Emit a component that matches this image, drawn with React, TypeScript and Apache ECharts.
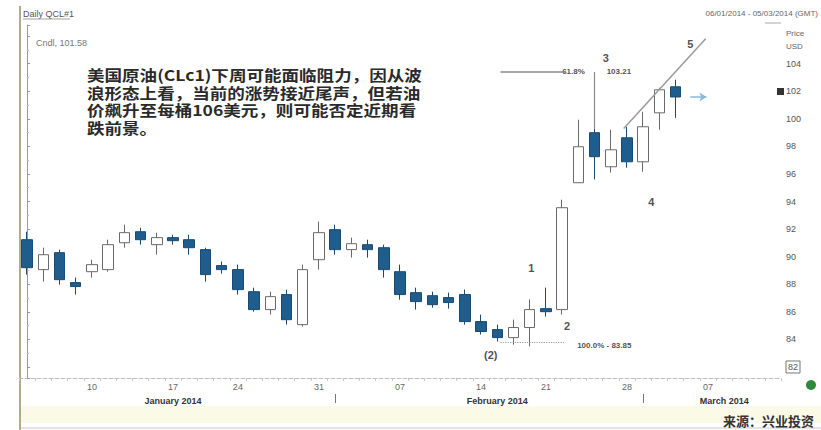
import React, { useEffect, useRef } from 'react';
import * as echarts from 'echarts';

// Trading days (MLK day and Presidents' Day skipped); last 6 are empty slots on the axis
const dates = [
  '2014-01-06', '2014-01-07', '2014-01-08', '2014-01-09', '2014-01-10',
  '2014-01-13', '2014-01-14', '2014-01-15', '2014-01-16', '2014-01-17',
  '2014-01-21', '2014-01-22', '2014-01-23', '2014-01-24',
  '2014-01-27', '2014-01-28', '2014-01-29', '2014-01-30', '2014-01-31',
  '2014-02-03', '2014-02-04', '2014-02-05', '2014-02-06', '2014-02-07',
  '2014-02-10', '2014-02-11', '2014-02-12', '2014-02-13', '2014-02-14',
  '2014-02-18', '2014-02-19', '2014-02-20', '2014-02-21',
  '2014-02-24', '2014-02-25', '2014-02-26', '2014-02-27', '2014-02-28',
  '2014-03-03', '2014-03-04', '2014-03-05', '2014-03-06', '2014-03-07',
  '2014-03-10', '2014-03-11', '2014-03-12', '2014-03-13',
];

const opens = [
  91.23, 89.06, 90.29, 88.12, 88.91, 89.06, 91.01, 91.81, 90.87, 91.38,
  91.23, 90.51, 89.35, 89.06, 87.46, 86.16, 87.25, 85.07, 89.78, 91.96,
  90.51, 90.87, 90.65, 88.91, 87.39, 87.17, 87.03, 87.25, 85.29, 84.71,
  84.13, 84.86, 86.23, 86.16, 95.36, 98.99, 96.52, 98.62, 96.88, 100.43,
  102.32,
];
const closes = [
  89.2, 90.14, 88.33, 87.83, 89.42, 90.87, 91.74, 91.23, 91.38, 91.16,
  90.65, 88.7, 89.06, 87.61, 86.16, 87.1, 85.43, 89.06, 91.74, 90.51,
  90.94, 90.51, 89.06, 87.25, 86.74, 86.52, 86.67, 85.29, 84.57, 84.13,
  84.86, 86.16, 86.01, 93.55, 97.97, 97.25, 97.75, 96.88, 99.42, 102.1,
  101.58,
];
const lows = [
  88.7, 88.19, 87.97, 87.25, 88.48, 88.91, 90.65, 90.87, 90.14, 90.87,
  90.14, 88.19, 88.77, 87.25, 86.01, 85.8, 85.07, 84.93, 89.06, 90.14,
  89.93, 89.93, 88.48, 86.88, 86.16, 86.3, 86.23, 85.07, 84.35, 83.84,
  83.62, 83.5, 85.65, 85.8, 95.4, 95.6, 96.1, 96.45, 96.16, 99.2,
  100.07,
];
const highs = [
  91.81, 90.65, 90.51, 88.48, 89.78, 91.23, 92.32, 92.1, 91.74, 91.59,
  91.59, 90.65, 89.64, 89.42, 87.75, 87.46, 87.61, 89.42, 92.54, 92.32,
  91.38, 91.23, 90.87, 89.42, 87.75, 87.46, 87.39, 87.61, 85.8, 85.07,
  85.43, 86.9, 87.75, 94.13, 99.93, 99.3, 99.2, 99.42, 100.51, 102.25,
  102.83,
];

const monthLabels = ['January 2014', 'February 2014', 'March 2014'];
const monthLabelIdx = [9, 29, 43];
const monthStartIdx = [19, 38];

const yMin = 81.2;
const yMax = 106.8;
const lastClose = 101.58;

const noteLines = [
  '美国原油(CLc1)下周可能面临阻力，因从波',
  '浪形态上看，当前的涨势接近尾声，但若油',
  '价飙升至每桶106美元，则可能否定近期看',
  '跌前景。',
];

// wave / fibonacci annotations in data coordinates [index, price]
const waveLabels = [
  { x: 31.1, y: 89.2, text: '1', size: 11 },
  { x: 33.3, y: 85.0, text: '2', size: 11 },
  { x: 28.6, y: 82.9, text: '(2)', size: 11 },
  { x: 35.7, y: 104.4, text: '3', size: 11 },
  { x: 38.5, y: 94.0, text: '4', size: 11 },
  { x: 40.9, y: 105.4, text: '5', size: 11 },
  { x: 33.7, y: 103.4, text: '61.8%', size: 8 },
  { x: 36.5, y: 103.4, text: '103.21', size: 8 },
  { x: 35.6, y: 83.55, text: '100.0% - 83.85', size: 8 },
];

const trendLine5 = [[36.8, 99.3], [41.85, 105.8]];
const fib618Line = [[29.2, 103.4], [33.2, 103.4]];
const wave3Line = [[35, 103.4], [35, 99.3]];
const fib100Line = [[29.2, 83.8], [33.2, 83.8]];
const lastPriceArrow = [[40.9, lastClose], [41.9, lastClose]];

function isFriday(v: string) {
  return new Date(v + 'T00:00:00Z').getUTCDay() === 5;
}

export default function App() {
  const ref = useRef<HTMLDivElement>(null);

  useEffect(() => {
    if (!ref.current) return;
    const chart = echarts.init(ref.current, undefined, { renderer: 'svg' });
    const candles = opens.map((o, i) => [o, closes[i], lows[i], highs[i]]);
    const seg = (pts: number[][], style: any, endSymbol = 'none') => [
      { coord: pts[0], symbol: 'none', lineStyle: style },
      { coord: pts[1], symbol: endSymbol, symbolSize: 7 },
    ];

    chart.setOption({
      animation: false,
      backgroundColor: '#ffffff',
      textStyle: { fontFamily: 'Liberation Sans, Arial, sans-serif' },
      grid: { left: 19, right: 40, top: 25, bottom: 52 },
      xAxis: [
        {
          type: 'category',
          data: dates,
          boundaryGap: true,
          axisLine: { show: true, lineStyle: { color: '#bdbdbd', type: 'dashed' } },
          axisTick: { show: true, interval: 0, length: 3, lineStyle: { color: '#c8c8c8' } },
          axisLabel: {
            interval: (_i: number, v: string) => isFriday(v),
            formatter: (v: string) => v.slice(8),
            color: '#666',
            fontSize: 9,
            margin: 4,
          },
          splitLine: { show: false },
        },
        {
          type: 'category',
          data: dates,
          position: 'bottom',
          offset: 16,
          axisLine: { show: false },
          axisTick: {
            show: true,
            alignWithLabel: true,
            interval: (i: number) => monthStartIdx.includes(i),
            length: 9,
            lineStyle: { color: '#777' },
          },
          axisLabel: {
            interval: (i: number) => monthLabelIdx.includes(i),
            formatter: (_v: string, i: number) => monthLabels[monthLabelIdx.indexOf(i)] || '',
            color: '#333',
            fontSize: 9,
            fontWeight: 'bold',
            margin: 2,
          },
          splitLine: { show: false },
        },
        { type: 'value', min: -0.5, max: dates.length - 0.5, show: false },
      ],
      yAxis: {
        type: 'value',
        position: 'right',
        min: yMin,
        max: yMax,
        splitNumber: 12,
        axisLine: { show: true, lineStyle: { color: '#9a9a9a' } },
        axisTick: { show: true, length: 3, lineStyle: { color: '#9a9a9a' } },
        minorTick: { show: true, splitNumber: 2, length: 2, lineStyle: { color: '#bbb' } },
        splitLine: { show: false },
        axisLabel: {
          color: '#555',
          fontSize: 9,
          margin: 5,
          formatter: (v: number) => {
            const r = Math.round(v);
            if (Math.abs(v - r) > 1e-6 || r % 2 !== 0 || r < 82 || r > 104) return '';
            return r === 82 ? '{box|82}' : String(r);
          },
          rich: { box: { borderColor: '#777', borderWidth: 1, padding: [2, 2, 1, 2], fontSize: 9, color: '#555' } },
        },
      },
      series: [
        {
          type: 'candlestick',
          xAxisIndex: 0,
          yAxisIndex: 0,
          data: candles,
          barWidth: 11,
          itemStyle: {
            color: '#ffffff',
            color0: '#1f5d8c',
            borderColor: '#6a6a6a',
            borderColor0: '#1a4a72',
            borderWidth: 1,
          },
        },
        {
          type: 'scatter',
          xAxisIndex: 2,
          yAxisIndex: 0,
          symbolSize: 1,
          itemStyle: { color: 'rgba(0,0,0,0)' },
          silent: true,
          data: waveLabels.map((l) => ({
            value: [l.x, l.y],
            label: {
              show: true,
              position: 'inside',
              formatter: l.text,
              fontSize: l.size,
              fontWeight: 'bold',
              color: '#222',
            },
          })),
          markLine: {
            silent: true,
            symbol: ['none', 'none'],
            label: { show: false },
            lineStyle: { color: '#8a8a8a', width: 1.5, type: 'solid' },
            data: [
              seg(trendLine5, { color: '#9a9a9a', width: 1.5, type: 'solid' }),
              seg(fib618Line, { color: '#8a8a8a', width: 1.5, type: 'solid' }),
              seg(wave3Line, { color: '#8a8a8a', width: 1.2, type: 'solid' }),
              seg(fib100Line, { color: '#9a9a9a', width: 1.2, type: 'dotted' }),
              seg(lastPriceArrow, { color: '#8cb8dc', width: 1.5, type: 'solid' }, 'arrow'),
            ],
          },
        },
      ],
      graphic: [
        { type: 'rect', shape: { x: 20, y: 406, width: 801, height: 17 }, style: { fill: '#fbfae6' }, silent: true },
        { type: 'line', shape: { x1: 20, y1: 428, x2: 821, y2: 428 }, style: { stroke: '#c9c9c9', lineWidth: 1 } },
        { type: 'line', shape: { x1: 20, y1: 6, x2: 20, y2: 430 }, style: { stroke: '#b3aa8c', lineWidth: 2 } },
        { type: 'line', shape: { x1: 765, y1: 23, x2: 781, y2: 23 }, style: { stroke: '#aaa', lineWidth: 1 } },
        { type: 'text', x: 23, y: 9, style: { text: 'Daily QCL#1', fontSize: 9, fill: '#555', fontFamily: 'Liberation Sans, Arial, sans-serif' } },
        { type: 'line', shape: { x1: 23, y1: 19, x2: 70, y2: 19 }, style: { stroke: '#888', lineWidth: 0.8 } },
        { type: 'text', x: 36, y: 38, style: { text: 'Cndl, 101.58', fontSize: 9, fill: '#777', fontFamily: 'Liberation Sans, Arial, sans-serif' } },
        { type: 'text', x: 818, y: 9, style: { text: '06/01/2014 - 05/03/2014 (GMT)', fontSize: 8, fill: '#666', textAlign: 'right', fontFamily: 'Liberation Sans, Arial, sans-serif' } },
        { type: 'text', x: 786, y: 29, style: { text: 'Price', fontSize: 8, fill: '#666', fontFamily: 'Liberation Sans, Arial, sans-serif' } },
        { type: 'text', x: 786, y: 42, style: { text: 'USD', fontSize: 8, fill: '#666', fontFamily: 'Liberation Sans, Arial, sans-serif' } },
        { type: 'rect', shape: { x: 777, y: 88, width: 7, height: 7 }, style: { fill: '#333' } },
        {
          type: 'text',
          x: 87,
          y: 66,
          scaleX: 1.17,
          style: {
            text: noteLines.join('\n'),
            fontSize: 15,
            lineHeight: 17.5,
            fontWeight: 'bold',
            fill: '#2a2a2a',
            fontFamily: 'Noto Sans CJK SC, sans-serif',
          },
        },
        {
          type: 'text',
          x: 814,
          y: 420,
          style: {
            text: '来源：兴业投资',
            fontSize: 13,
            fontWeight: 'bold',
            fill: '#333',
            textAlign: 'right',
            textVerticalAlign: 'middle',
            fontFamily: 'Noto Sans CJK SC, sans-serif',
          },
        },
        { type: 'circle', shape: { cx: 811, cy: 385, r: 5 }, style: { fill: '#2f8a3c' } },
      ],
    });
    return () => chart.dispose();
  }, []);

  return (
    <div
      ref={ref}
      style={{ position: 'fixed', left: 0, top: 0, width: 821, height: 430, background: '#fff' }}
    />
  );
}
